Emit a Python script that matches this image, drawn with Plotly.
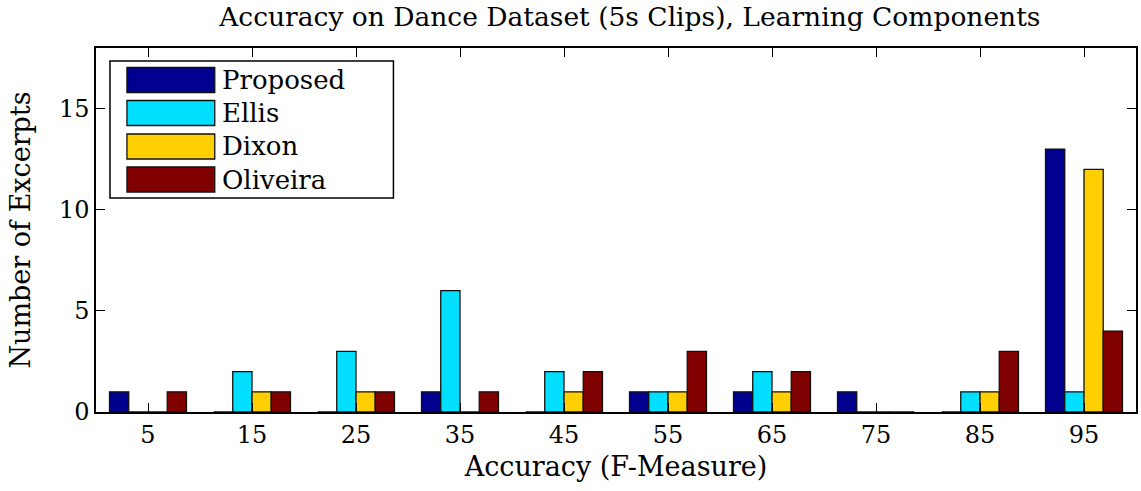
import plotly.graph_objects as go

categories = [5, 15, 25, 35, 45, 55, 65, 75, 85, 95]
series_names = ["Proposed", "Ellis", "Dixon", "Oliveira"]
proposed = [1, 0, 0, 1, 0, 1, 1, 1, 0, 13]
ellis = [0, 2, 3, 6, 2, 1, 2, 0, 1, 1]
dixon = [0, 1, 1, 0, 1, 1, 1, 0, 1, 12]
oliveira = [1, 1, 1, 1, 2, 3, 2, 0, 3, 4]
colors = ["#00008F", "#00DFFF", "#FFCF00", "#800000"]

FONT = "DejaVu Serif"
values = [proposed, ellis, dixon, oliveira]

fig = go.Figure()
for name, vals, col in zip(series_names, values, colors):
    fig.add_trace(go.Bar(
        x=categories, y=vals, name=name, showlegend=False,
        marker=dict(color=col, line=dict(color="#111111", width=1.3)),
    ))

W, H = 1141, 491
ml, mr, mt, mb = 96, 3, 48, 79
pw, ph = W - ml - mr, H - mt - mb
def px(x):
    return (x - ml) / pw
def py(y):
    return 1 - (y - mt) / ph

shapes = [dict(type="rect", xref="paper", yref="paper",
               x0=px(110), x1=px(394), y0=py(198), y1=py(61),
               line=dict(color="black", width=1.5), fillcolor="white", layer="above")]
annotations = []
row_y = [80, 113, 146.5, 179.5]
for name, col, yc in zip(series_names, colors, row_y):
    shapes.append(dict(type="rect", xref="paper", yref="paper",
                       x0=px(127), x1=px(215), y0=py(yc + 12.5), y1=py(yc - 12.5),
                       line=dict(color="#111111", width=1.3), fillcolor=col, layer="above"))
    annotations.append(dict(xref="paper", yref="paper", x=px(220), y=py(yc),
                            text=name, showarrow=False, xanchor="left", yanchor="middle",
                            font=dict(family=FONT, size=26, color="black")))

fig.update_layout(
    width=W, height=H,
    margin=dict(l=ml, r=mr, t=mt, b=mb),
    paper_bgcolor="white", plot_bgcolor="white",
    barmode="group", bargap=0.26, bargroupgap=0,
    font=dict(family=FONT, size=24, color="black"),
    title=dict(text="Accuracy on Dance Dataset (5s Clips), Learning Components",
               x=0.552, xanchor="center", y=0.965, yanchor="middle",
               font=dict(family=FONT, size=26.5)),
    shapes=shapes, annotations=annotations,
)
fig.update_xaxes(range=[0, 100], tickvals=categories, ticktext=[str(c) for c in categories],
                 ticks="inside", ticklen=9, tickwidth=1.3, tickcolor="black",
                 showline=True, linecolor="black", linewidth=1.5, mirror="ticks",
                 showgrid=False, zeroline=False,
                 title=dict(text="Accuracy (F-Measure)", standoff=10, font=dict(size=27)),
                 tickfont=dict(size=24))
fig.update_yaxes(range=[0, 18], tickvals=[0, 5, 10, 15],
                 ticks="inside", ticklen=9, tickwidth=1.3, tickcolor="black",
                 showline=True, linecolor="black", linewidth=1.5, mirror="ticks",
                 showgrid=False, zeroline=False,
                 title=dict(text="Number of Excerpts", standoff=20, font=dict(size=27)),
                 tickfont=dict(size=24))

fig.write_html("out.html")
